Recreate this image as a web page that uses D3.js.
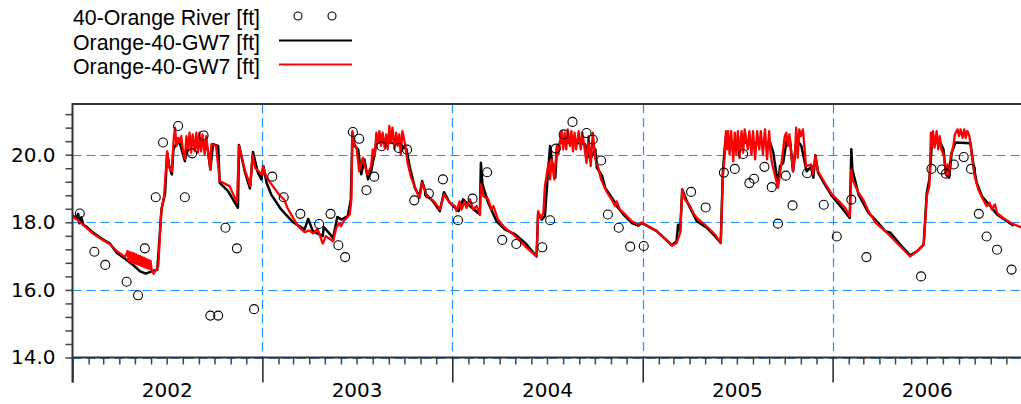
<!DOCTYPE html>
<html>
<head>
<meta charset="utf-8">
<script src="https://cdn.jsdelivr.net/npm/d3@7"></script>
<style>
  body { margin: 0; background: #fff; }
  svg { display: block; }
</style>
</head>
<body>
<div id="chart"></div>
<script>
// observed river stage, sampled
var riverObs = [
  ["2002-01-15",18.26],["2002-02-12",17.13],["2002-03-05",16.74],["2002-04-15",16.24],["2002-05-07",15.84],
  ["2002-05-20",17.23],["2002-06-10",18.74],["2002-06-24",20.36],["2002-07-23",20.85],["2002-08-05",18.74],
  ["2002-08-19",20.04],["2002-09-10",20.57],["2002-09-23",15.24],["2002-10-08",15.24],["2002-10-22",17.84],
  ["2002-11-13",17.23],["2002-12-16",15.43],["2003-01-20",19.35],["2003-02-11",18.74],["2003-03-15",18.25],
  ["2003-04-20",17.95],["2003-05-12",18.25],["2003-05-27",17.32],["2003-06-09",16.97],["2003-06-24",20.67],
  ["2003-07-06",20.47],["2003-07-20",18.95],["2003-08-04",19.35],["2003-08-18",20.25],["2003-09-20",20.20],
  ["2003-10-06",20.15],["2003-10-20",18.65],["2003-11-17",18.85],["2003-12-14",19.27],["2004-01-12",18.06],
  ["2004-02-09",18.70],["2004-03-08",19.48],["2004-04-06",17.48],["2004-05-03",17.36],["2004-06-22",17.26],
  ["2004-07-07",18.06],["2004-07-18",20.18],["2004-08-02",20.60],["2004-08-19",20.97],["2004-09-15",20.64],
  ["2004-09-27",20.45],["2004-10-13",19.83],["2004-10-26",18.23],["2004-11-16",17.84],["2004-12-08",17.28],
  ["2005-01-03",17.30],["2005-04-04",18.90],["2005-05-02",18.44],["2005-06-06",19.47],["2005-06-27",19.58],
  ["2005-07-13",20.02],["2005-07-25",19.16],["2005-08-03",19.29],["2005-08-23",19.64],["2005-09-06",19.04],
  ["2005-09-18",17.96],["2005-10-03",19.38],["2005-10-16",18.50],["2005-11-13",19.45],["2005-12-15",18.52],
  ["2006-01-09",17.58],["2006-02-06",18.67],["2006-03-07",16.97],["2006-06-20",16.40],["2006-07-10",19.58],
  ["2006-07-30",19.56],["2006-08-07",19.44],["2006-08-22",19.71],["2006-09-10",19.93],["2006-09-24",19.58],
  ["2006-10-09",18.25],["2006-10-24",17.58],["2006-11-13",17.19],["2006-12-11",16.60]
];

// GW7, black run
var gw7Black = [
  ["2002-01-01",18.20],["2002-01-08",18.12],["2002-01-12",18.25],["2002-01-14",17.97],["2002-01-18",18.15],
  ["2002-01-22",17.92],["2002-01-27",17.88],["2002-02-10",17.69],["2002-03-01",17.49],["2002-03-14",17.37],
  ["2002-03-27",17.10],["2002-04-12",16.92],["2002-04-28",16.73],["2002-05-11",16.55],["2002-05-22",16.48],
  ["2002-06-02",16.55],["2002-06-13",16.60],["2002-06-18",17.69],["2002-06-21",18.38],["2002-06-28",18.87],
  ["2002-07-02",20.06],["2002-07-06",19.66],["2002-07-11",19.42],["2002-07-14",20.16],["2002-07-19",20.31],
  ["2002-07-26",20.36],["2002-08-05",19.81],["2002-08-11",20.31],["2002-08-24",20.28],["2002-09-09",20.28],
  ["2002-09-18",20.16],["2002-09-23",19.56],["2002-09-28",20.31],["2002-10-08",20.26],["2002-10-11",19.17],
  ["2002-10-27",18.92],["2002-11-15",18.43],["2002-11-17",20.29],["2002-11-28",19.51],["2002-12-08",19.00],
  ["2002-12-14",20.08],["2002-12-23",19.48],["2002-12-30",19.27],
  ["2003-01-03",19.66],["2003-01-09",19.17],["2003-01-18",18.82],["2003-02-06",18.38],["2003-03-01",18.00],
  ["2003-03-23",17.79],["2003-03-30",18.10],["2003-04-08",17.74],["2003-04-27",17.59],["2003-04-29",17.86],
  ["2003-05-17",17.54],["2003-05-25",18.16],["2003-06-02",18.08],["2003-06-14",18.18],["2003-06-20",18.67],
  ["2003-06-23",20.65],["2003-06-27",20.26],["2003-07-04",20.16],["2003-07-10",19.42],["2003-07-16",19.86],
  ["2003-07-23",19.27],["2003-07-29",19.51],["2003-08-05",20.06],["2003-08-08",20.36],["2003-09-03",20.36],
  ["2003-09-22",20.31],["2003-10-05",20.16],["2003-10-11",19.66],["2003-10-21",19.02],["2003-10-30",18.77],
  ["2003-11-04",19.22],["2003-11-12",18.82],["2003-11-25",18.62],["2003-12-08",18.33],["2003-12-16",18.89],
  ["2003-12-27",18.58],
  ["2004-01-13",18.33],["2004-01-22",18.68],["2004-02-04",18.48],["2004-02-23",18.23],["2004-02-25",19.76],
  ["2004-02-28",19.12],["2004-03-10",18.58],["2004-03-26",18.03],["2004-04-11",17.79],["2004-05-01",17.64],
  ["2004-05-20",17.39],["2004-06-11",16.99],["2004-06-14",18.28],["2004-06-21",18.08],["2004-06-27",18.18],
  ["2004-07-02",19.27],["2004-07-07",20.26],["2004-07-11",19.76],["2004-07-17",19.32],["2004-07-20",20.16],
  ["2004-07-26",20.36],["2004-08-24",20.36],["2004-09-12",20.31],["2004-09-22",19.86],["2004-10-02",20.16],
  ["2004-10-05",19.61],["2004-10-15",19.37],["2004-10-21",19.02],["2004-11-09",18.58],["2004-11-12",18.48],
  ["2004-11-25",18.23],["2004-12-11",17.98],["2004-12-24",17.90],["2004-12-30",17.98],
  ["2005-01-28",17.74],["2005-02-26",17.32],["2005-03-07",17.44],["2005-03-10",17.93],["2005-03-14",17.74],
  ["2005-03-18",18.97],["2005-03-27",18.62],["2005-04-15",18.03],["2005-05-04",17.84],["2005-05-20",17.59],
  ["2005-05-31",17.39],["2005-06-04",19.47],["2005-06-08",20.26],["2005-06-11",20.65],["2005-06-14",20.36],
  ["2005-07-17",20.36],["2005-08-14",20.34],["2005-09-03",20.36],["2005-09-09",20.06],["2005-09-18",19.12],
  ["2005-09-22",19.66],["2005-09-28",19.76],["2005-10-05",20.45],["2005-10-11",20.45],["2005-10-17",19.51],
  ["2005-10-24",20.45],["2005-11-02",20.26],["2005-11-12",19.51],["2005-11-22",19.66],["2005-11-25",19.32],
  ["2005-11-29",19.98],["2005-12-04",19.47],["2005-12-17",19.12],["2005-12-31",18.77],
  ["2006-01-16",18.48],["2006-02-03",18.13],["2006-02-06",20.16],["2006-02-08",19.56],["2006-02-20",18.82],
  ["2006-03-11",18.28],["2006-03-24",18.08],["2006-04-12",17.74],["2006-04-22",17.69],["2006-05-11",17.34],
  ["2006-05-30",17.02],["2006-06-12",17.14],["2006-06-25",17.34],["2006-07-01",18.87],["2006-07-06",19.27],
  ["2006-07-11",20.36],["2006-07-27",20.36],["2006-08-02",20.16],["2006-08-07",19.42],["2006-08-13",19.32],
  ["2006-08-18",20.06],["2006-08-25",20.36],["2006-09-23",20.34],["2006-09-29",19.66],["2006-10-05",19.17],
  ["2006-10-15",18.77],["2006-10-31",18.48],["2006-11-13",18.23],["2006-12-02",18.03],["2006-12-15",17.90]
];

// GW7, red run
var gw7Red = [
  ["2002-01-01",18.17],["2002-01-12",18.05],["2002-01-27",17.85],["2002-02-10",17.66],["2002-03-01",17.47],
  ["2002-03-14",17.35],["2002-03-27",17.15],["2002-04-12",16.97],["2002-04-17",17.15],["2002-04-19",16.85],
  ["2002-04-21",17.12],["2002-04-23",16.83],["2002-04-25",17.10],["2002-04-27",16.81],["2002-04-29",17.08],
  ["2002-05-01",16.78],["2002-05-03",17.05],["2002-05-05",16.76],["2002-05-07",17.02],["2002-05-09",16.74],
  ["2002-05-11",17.00],["2002-05-13",16.71],["2002-05-15",16.97],["2002-05-17",16.69],["2002-05-19",16.95],
  ["2002-05-21",16.66],["2002-05-23",16.92],["2002-05-25",16.64],["2002-05-27",16.89],["2002-05-29",16.62],
  ["2002-05-31",16.86],["2002-06-02",16.60],["2002-06-06",16.48],["2002-06-15",16.70],["2002-06-18",17.63],
  ["2002-06-21",18.38],["2002-06-26",18.77],["2002-07-02",20.10],["2002-07-06",19.61],["2002-07-11",19.51],
  ["2002-07-14",20.36],["2002-07-17",20.80],["2002-07-20",20.26],["2002-07-23",20.50],["2002-07-26",20.36],
  ["2002-07-29",20.55],["2002-08-01",20.16],["2002-08-05",19.86],["2002-08-08",20.55],["2002-08-11",20.16],
  ["2002-08-14",20.65],["2002-08-17",20.06],["2002-08-20",20.60],["2002-08-24",20.10],["2002-08-27",20.65],
  ["2002-08-30",20.06],["2002-09-02",20.65],["2002-09-05",20.10],["2002-09-08",20.60],["2002-09-12",20.00],
  ["2002-09-15",20.55],["2002-09-18",20.16],["2002-09-23",19.56],["2002-09-25",20.31],["2002-10-04",20.26],
  ["2002-10-11",19.22],["2002-10-30",19.07],["2002-11-13",18.58],["2002-11-17",20.26],["2002-11-28",19.56],
  ["2002-12-09",19.07],["2002-12-13",20.00],["2002-12-18",19.61],["2002-12-31",19.42],
  ["2003-01-02",19.66],["2003-01-09",19.32],["2003-01-21",19.07],["2003-02-02",18.82],["2003-02-12",18.67],
  ["2003-02-18",18.43],["2003-03-01",18.13],["2003-03-11",17.88],["2003-03-23",17.71],["2003-04-01",17.76],
  ["2003-04-08",17.67],["2003-04-17",17.81],["2003-04-27",17.37],["2003-05-03",17.59],["2003-05-17",17.44],
  ["2003-05-23",17.84],["2003-05-29",17.98],["2003-06-01",17.88],["2003-06-07",18.06],["2003-06-11",18.11],
  ["2003-06-18",18.23],["2003-06-21",18.67],["2003-06-23",20.70],["2003-06-27",20.31],["2003-07-01",20.21],
  ["2003-07-06",19.51],["2003-07-13",19.91],["2003-07-16",19.71],["2003-07-22",19.42],["2003-07-29",19.66],
  ["2003-08-01",20.16],["2003-08-05",19.96],["2003-08-08",20.65],["2003-08-11",20.36],["2003-08-14",20.70],
  ["2003-08-17",20.26],["2003-08-20",20.65],["2003-08-24",20.21],["2003-08-27",20.60],["2003-08-30",20.16],
  ["2003-09-02",20.85],["2003-09-05",20.36],["2003-09-08",20.80],["2003-09-12",20.16],["2003-09-15",20.65],
  ["2003-09-18",20.26],["2003-09-21",20.60],["2003-09-24",20.00],["2003-09-27",20.70],["2003-10-03",20.26],
  ["2003-10-07",19.76],["2003-10-14",19.32],["2003-10-23",18.97],["2003-10-30",18.72],["2003-11-04",19.17],
  ["2003-11-13",18.77],["2003-11-27",18.62],["2003-12-08",18.38],["2003-12-16",18.82],["2003-12-27",18.58],
  ["2004-01-06",18.48],["2004-01-09",18.33],["2004-01-15",18.62],["2004-01-19",18.38],["2004-01-25",18.62],
  ["2004-01-28",18.43],["2004-02-04",18.68],["2004-02-10",18.38],["2004-02-17",18.48],["2004-02-23",18.23],
  ["2004-02-25",19.12],["2004-03-01",18.77],["2004-03-10",18.68],["2004-03-16",18.38],["2004-03-20",18.48],
  ["2004-03-29",18.08],["2004-04-11",17.84],["2004-05-01",17.59],["2004-05-20",17.29],["2004-06-11",16.99],
  ["2004-06-14",18.33],["2004-06-20",18.13],["2004-06-24",18.28],["2004-06-27",19.07],["2004-07-04",19.76],
  ["2004-07-07",19.27],["2004-07-10",19.86],["2004-07-15",19.27],["2004-07-20",20.26],["2004-07-23",20.00],
  ["2004-07-26",20.40],["2004-07-29",20.70],["2004-08-01",20.16],["2004-08-04",20.65],["2004-08-07",20.16],
  ["2004-08-10",20.75],["2004-08-14",20.26],["2004-08-17",20.70],["2004-08-20",20.10],["2004-08-23",20.65],
  ["2004-08-26",20.16],["2004-08-31",20.70],["2004-09-04",20.16],["2004-09-07",20.65],["2004-09-11",20.21],
  ["2004-09-15",19.76],["2004-09-19",20.55],["2004-09-23",19.66],["2004-09-27",20.65],["2004-10-02",19.86],
  ["2004-10-07",19.66],["2004-10-13",19.27],["2004-10-23",18.92],["2004-11-02",18.68],["2004-11-09",18.48],
  ["2004-11-12",18.62],["2004-11-18",18.38],["2004-11-25",18.28],["2004-12-11",18.03],["2004-12-24",17.93],
  ["2004-12-30",18.00],
  ["2005-01-28",17.74],["2005-02-27",17.31],["2005-03-07",17.39],["2005-03-14",17.69],["2005-03-18",18.97],
  ["2005-03-23",18.68],["2005-04-02",18.48],["2005-04-08",18.28],["2005-04-15",18.13],["2005-05-04",17.88],
  ["2005-05-20",17.64],["2005-05-31",17.39],["2005-06-04",19.37],["2005-06-07",19.86],["2005-06-10",20.70],
  ["2005-06-12",20.16],["2005-06-14",20.70],["2005-06-17",20.00],["2005-06-20",20.70],["2005-06-24",19.81],
  ["2005-06-27",20.65],["2005-06-30",20.00],["2005-07-03",20.70],["2005-07-06",19.91],["2005-07-10",20.70],
  ["2005-07-13",20.06],["2005-07-16",20.75],["2005-07-22",20.16],["2005-07-25",20.70],["2005-07-29",20.00],
  ["2005-08-01",20.70],["2005-08-05",19.86],["2005-08-09",20.70],["2005-08-13",20.16],["2005-08-16",20.70],
  ["2005-08-20",20.00],["2005-08-24",20.75],["2005-08-28",19.86],["2005-09-01",20.70],["2005-09-04",20.00],
  ["2005-09-07",19.71],["2005-09-18",19.02],["2005-09-24",19.66],["2005-10-01",20.55],["2005-10-04",20.65],
  ["2005-10-07",20.26],["2005-10-10",20.60],["2005-10-17",19.51],["2005-10-21",20.16],["2005-10-23",20.80],
  ["2005-10-26",19.91],["2005-10-29",20.75],["2005-11-01",20.55],["2005-11-05",20.75],["2005-11-11",19.66],
  ["2005-11-21",19.71],["2005-11-24",19.42],["2005-11-29",19.96],["2005-12-04",19.51],["2005-12-17",19.17],
  ["2005-12-31",18.82],
  ["2006-01-16",18.58],["2006-01-25",18.43],["2006-02-03",18.18],["2006-02-06",19.56],["2006-02-08",19.27],
  ["2006-02-20",18.87],["2006-03-01",18.67],["2006-03-11",18.33],["2006-03-24",18.00],["2006-04-12",17.74],
  ["2006-04-22",17.59],["2006-05-11",17.29],["2006-05-30",16.99],["2006-06-12",17.14],["2006-06-25",17.34],
  ["2006-06-28",17.98],["2006-07-01",18.77],["2006-07-06",19.07],["2006-07-09",20.65],["2006-07-11",20.26],
  ["2006-07-13",20.70],["2006-07-16",20.21],["2006-07-20",20.70],["2006-07-23",20.16],["2006-07-26",20.55],
  ["2006-07-29",20.16],["2006-08-03",19.96],["2006-08-07",19.42],["2006-08-10",19.71],["2006-08-13",19.37],
  ["2006-08-16",19.96],["2006-08-21",20.26],["2006-08-24",20.60],["2006-08-29",20.75],["2006-09-01",20.55],
  ["2006-09-04",20.75],["2006-09-08",20.50],["2006-09-11",20.75],["2006-09-14",20.50],["2006-09-17",20.70],
  ["2006-09-21",20.55],["2006-09-25",20.06],["2006-10-01",19.37],["2006-10-08",18.97],["2006-10-17",18.68],
  ["2006-10-24",18.48],["2006-10-30",18.58],["2006-11-03",18.38],["2006-11-09",18.53],["2006-11-13",18.28],
  ["2006-11-25",18.13],["2006-12-12",17.96],["2006-12-31",17.84]
];

var years = [2002, 2003, 2004, 2005, 2006];
var yMajor = [14, 16, 18, 20];
var legendLabels = ["40-Orange River [ft]", "Orange-40-GW7 [ft]", "Orange-40-GW7 [ft]"];

var w = 1021, h = 404;
// note: "top" is taken by window.top, so plotTop
var plotLeft = 72.5, plotTop = 104, plotBottom = 357.5;
var gridBlue = "#2090ff";
var axisFont = "'DejaVu Sans', Verdana, sans-serif";
var legendFont = "'Liberation Sans', Arial, sans-serif";

var parse = d3.timeParse("%Y-%m-%d");

var x = d3.scaleTime()
          .domain([new Date(years[0], 0, 1), new Date(years[years.length - 1] + 1, 0, 1)])
          .range([plotLeft, plotLeft + 950]);

var y = d3.scaleLinear()
          .domain([14, 21.5])
          .range([plotBottom, plotTop]);

var svg = d3.select("#chart")
            .append("svg")
            .attr("width", w)
            .attr("height", h);

svg.append("defs").append("clipPath")
   .attr("id", "plot-clip")
   .append("rect")
   .attr("x", plotLeft)
   .attr("y", plotTop)
   .attr("width", w - plotLeft)
   .attr("height", plotBottom - plotTop);

// dashed grid
svg.append("g")
   .selectAll("line")
   .data(yMajor)
   .enter()
   .append("line")
   .attr("x1", plotLeft)
   .attr("x2", w)
   .attr("y1", function(d) { return Math.round(y(d)) + 0.5; })
   .attr("y2", function(d) { return Math.round(y(d)) + 0.5; })
   .attr("stroke", gridBlue)
   .attr("stroke-width", 1.2)
   .attr("stroke-dasharray", "9,5");

svg.append("g")
   .selectAll("line")
   .data(years.slice(1))
   .enter()
   .append("line")
   .attr("x1", function(d) { return Math.round(x(new Date(d, 0, 1))) + 0.5; })
   .attr("x2", function(d) { return Math.round(x(new Date(d, 0, 1))) + 0.5; })
   .attr("y1", plotTop)
   .attr("y2", plotBottom)
   .attr("stroke", gridBlue)
   .attr("stroke-width", 1.2)
   .attr("stroke-dasharray", "9,5");

var line = d3.line()
             .x(function(d) { return x(parse(d[0])); })
             .y(function(d) { return y(d[1]); });

var plot = svg.append("g").attr("clip-path", "url(#plot-clip)");

plot.append("path")
    .datum(gw7Black)
    .attr("d", line)
    .attr("fill", "none")
    .attr("stroke", "#000")
    .attr("stroke-width", 2.5)
    .attr("stroke-linejoin", "round");

plot.append("path")
    .datum(gw7Red)
    .attr("d", line)
    .attr("fill", "none")
    .attr("stroke", "#ff0000")
    .attr("stroke-width", 2.3)
    .attr("stroke-linejoin", "round");

plot.selectAll("circle")
    .data(riverObs)
    .enter()
    .append("circle")
    .attr("cx", function(d) { return x(parse(d[0])); })
    .attr("cy", function(d) { return y(d[1]); })
    .attr("r", 4.5)
    .attr("fill", "none")
    .attr("stroke", "#000")
    .attr("stroke-width", 1.1);

// y axis: minor ticks every 0.4, labels on even feet
var yTicks = d3.range(0, 19).map(function(i) { return +(14 + i * 0.4).toFixed(1); });
var yAxis = d3.axisLeft(y)
              .tickValues(yTicks)
              .tickSize(7)
              .tickSizeOuter(0)
              .tickPadding(10)
              .tickFormat(function(d) { return yMajor.indexOf(d) >= 0 ? d3.format(".1f")(d) : ""; });

var gy = svg.append("g")
            .attr("transform", "translate(" + plotLeft + ",0)")
            .call(yAxis);
gy.select(".domain").remove();
gy.selectAll(".tick line").attr("stroke", "#444").attr("stroke-width", 1.5);
gy.selectAll("text")
  .attr("font-family", axisFont)
  .attr("font-size", 20)
  .attr("fill", "#000");

// x axis: month ticks, long ticks at year start
var xAxis = d3.axisBottom(x)
              .ticks(d3.timeMonth.every(1))
              .tickSize(7)
              .tickSizeOuter(0)
              .tickFormat("");

var gx = svg.append("g")
            .attr("transform", "translate(0," + plotBottom + ")")
            .call(xAxis);
gx.select(".domain").remove();
gx.selectAll(".tick line")
  .attr("stroke-width", 1.5)
  .attr("y2", function(d) { return d.getMonth() === 0 ? 25 : 7; })
  .attr("stroke", function(d) { return d.getMonth() === 0 ? "#222" : "#444"; });

svg.append("g")
   .selectAll("text")
   .data(years)
   .enter()
   .append("text")
   .attr("x", function(d) { return x(new Date(d, 6, 2)); })
   .attr("y", 397)
   .attr("text-anchor", "middle")
   .attr("font-family", axisFont)
   .attr("font-size", 20)
   .text(function(d) { return d; });

// frame
svg.append("line")
   .attr("x1", plotLeft).attr("x2", w)
   .attr("y1", plotTop).attr("y2", plotTop)
   .attr("stroke", "#333").attr("stroke-width", 2);
svg.append("line")
   .attr("x1", plotLeft).attr("x2", w)
   .attr("y1", plotBottom).attr("y2", plotBottom)
   .attr("stroke", "#333").attr("stroke-width", 2);
svg.append("line")
   .attr("x1", plotLeft).attr("x2", plotLeft)
   .attr("y1", plotTop - 1).attr("y2", plotBottom + 25)
   .attr("stroke", "#333").attr("stroke-width", 2);

// legend
var legend = svg.append("g");
legend.selectAll("text")
      .data(legendLabels)
      .enter()
      .append("text")
      .attr("x", 73)
      .attr("y", function(d, i) { return 25 + i * 24.5; })
      .attr("font-family", legendFont)
      .attr("font-size", 21.3)
      .attr("fill", "#000")
      .text(function(d) { return d; });

legend.selectAll("circle")
      .data([298, 332])
      .enter()
      .append("circle")
      .attr("cx", function(d) { return d; })
      .attr("cy", 16)
      .attr("r", 4)
      .attr("fill", "none")
      .attr("stroke", "#000")
      .attr("stroke-width", 1.1);

legend.append("line")
      .attr("x1", 279).attr("x2", 352)
      .attr("y1", 40.5).attr("y2", 40.5)
      .attr("stroke", "#000").attr("stroke-width", 2);

legend.append("line")
      .attr("x1", 279).attr("x2", 352)
      .attr("y1", 64.5).attr("y2", 64.5)
      .attr("stroke", "#ff0000").attr("stroke-width", 2);
</script>
</body>
</html>
